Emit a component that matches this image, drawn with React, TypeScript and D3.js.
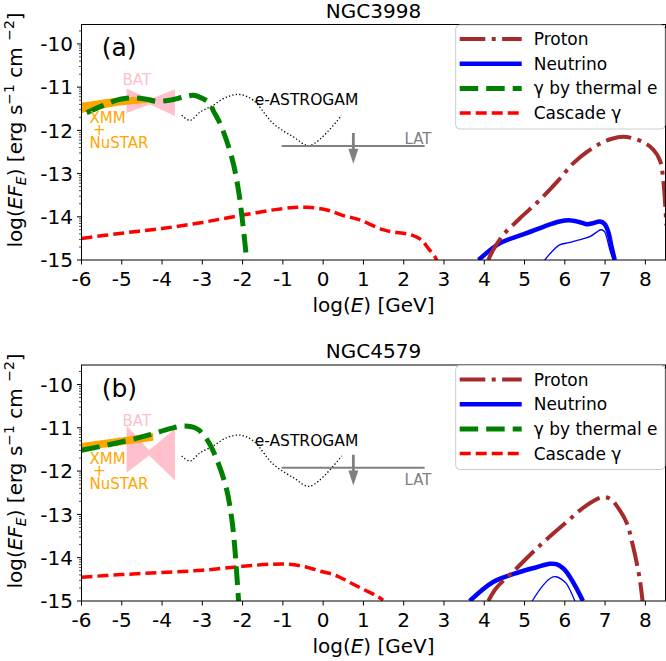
import React from "react";
import * as d3 from "d3";

const FONT = "'DejaVu Sans', sans-serif";
type P = [number, number];

// ---------- axes ----------
const X_TICKS = [-6, -5, -4, -3, -2, -1, 0, 1, 2, 3, 4, 5, 6, 7, 8];
const X_TICK_LABELS = ["-6", "-5", "-4", "-3", "-2", "-1", "0", "1", "2", "3", "4", "5", "6", "7", "8"];
const Y_TICKS = [-10, -11, -12, -13, -14, -15];
const Y_TICK_LABELS = ["-10", "-11", "-12", "-13", "-14", "-15"];
const LEGEND_LABELS = ["Proton", "Neutrino", "\u03b3 by thermal e", "Cascade \u03b3"];
const TITLES = ["NGC3998", "NGC4579"];
const PANEL_TAGS = ["(a)", "(b)"];

// ---------- instrument sensitivities (shared) ----------
const ASTROGAM: P[] = [
  [-3.51, -11.65], [-3.31, -11.77], [-3.06, -11.58], [-2.73, -11.42], [-2.4, -11.23],
  [-2.07, -11.17], [-1.74, -11.3], [-1.24, -11.84], [-0.74, -12.15], [-0.33, -12.35], [0.46, -11.65],
];
const LAT_RANGE = [-1.03, 2.52];
const LAT_ARROW_X = 0.75;

// ---------- (a) NGC3998 ----------
const A_XMM_X = [-6, -5.5, -5, -4.5, -4.2];
const A_XMM_HI = [-11.36, -11.29, -11.24, -11.23, -11.25];
const A_XMM_LO = [-11.6, -11.5, -11.42, -11.37, -11.35];
const A_BAT_X = [-4.88, -4.3, -3.68];
const A_BAT_HI = [-11.03, -11.28, -11.05];
const A_BAT_LO = [-11.6, -11.4, -11.67];
const A_LAT = -12.36;
const A_THERMAL: P[] = [
  [-5.87, -11.59], [-5.46, -11.42], [-5.04, -11.28], [-4.71, -11.25], [-4.38, -11.28],
  [-4.13, -11.33], [-3.8, -11.3], [-3.47, -11.23], [-3.23, -11.19], [-2.98, -11.27],
  [-2.81, -11.38], [-2.73, -11.54], [-2.56, -11.84], [-2.4, -12.23], [-2.23, -12.77],
  [-2.1, -13.4], [-1.99, -14.2], [-1.9, -15.0],
];
const A_CASCADE: P[] = [
  [-6, -14.5], [-5, -14.38], [-4, -14.27], [-3, -14.13], [-2, -13.96], [-1, -13.81],
  [-0.4, -13.78], [0.12, -13.85], [0.46, -13.96], [0.87, -14.06], [1.53, -14.31],
  [2.19, -14.42], [2.44, -14.54], [2.61, -14.73], [2.77, -14.92], [2.82, -15.0],
];
const A_PROTON: P[] = [
  [4.1, -15], [4.22, -14.77], [4.47, -14.42], [4.88, -14.04], [5.38, -13.61], [5.8, -13.2],
  [6.2, -12.77], [6.55, -12.5], [6.87, -12.31], [7.15, -12.2], [7.45, -12.15], [7.75, -12.2],
  [8.02, -12.31], [8.2, -12.45], [8.36, -12.69], [8.45, -13.2], [8.52, -14.2],
];
const A_NU: P[] = [
  [3.86, -15], [4.39, -14.61], [5.05, -14.38], [5.5, -14.22], [5.87, -14.11], [6.1, -14.08],
  [6.35, -14.12], [6.54, -14.17], [6.7, -14.15], [6.87, -14.11], [6.98, -14.16],
  [7.08, -14.35], [7.16, -14.69], [7.24, -15],
];
const A_NU_THIN: P[] = [
  [5.5, -15], [5.87, -14.65], [6.1, -14.6], [6.29, -14.55], [6.62, -14.46], [6.8, -14.35],
  [6.9, -14.3], [6.99, -14.35], [7.06, -14.55], [7.12, -14.77], [7.2, -15],
];

// ---------- (b) NGC4579 ----------
const B_XMM_X = [-6, -4.22];
const B_XMM_HI = [-11.35, -11.12];
const B_XMM_LO = [-11.53, -11.3];
const B_BAT_X = [-4.88, -4.32, -3.68];
const B_BAT_HI = [-10.95, -11.52, -11.02];
const B_BAT_LO = [-12.04, -11.64, -12.21];
const B_LAT = -11.92;
const B_THERMAL: P[] = [
  [-6, -11.52], [-4.88, -11.3], [-4.3, -11.16], [-3.8, -11.02], [-3.47, -10.96],
  [-3.14, -11.02], [-2.9, -11.25], [-2.65, -11.71], [-2.4, -12.41], [-2.27, -13.1],
  [-2.2, -13.7], [-2.1, -15],
];
const B_CASCADE: P[] = [
  [-6, -14.45], [-5, -14.39], [-4, -14.34], [-3, -14.29], [-2, -14.2], [-1.28, -14.15],
  [-0.87, -14.15], [-0.45, -14.21], [-0.04, -14.32], [0.29, -14.4], [0.62, -14.55],
  [0.95, -14.71], [1.28, -14.86], [1.49, -14.98],
];
const B_PROTON: P[] = [
  [4.1, -15], [4.3, -14.7], [4.71, -14.33], [5.38, -13.72], [6.04, -13.18], [6.54, -12.79],
  [6.95, -12.6], [7.15, -12.65], [7.28, -12.79], [7.53, -13.18], [7.69, -13.72],
  [7.86, -14.49], [7.93, -15],
];
const B_NU: P[] = [
  [3.64, -15], [4.22, -14.56], [4.88, -14.33], [5.3, -14.22], [5.63, -14.14], [5.79, -14.15],
  [5.95, -14.24], [6.04, -14.33], [6.25, -14.64], [6.45, -15],
];
const B_NU_THIN: P[] = [
  [5.19, -15], [5.46, -14.64], [5.65, -14.47], [5.79, -14.44], [5.92, -14.5], [6.04, -14.6],
  [6.25, -15],
];

// ---------- styles ----------
const STYLES = [
  { color: "#a52a2a", width: 4, dash: "25.6 6.4 4 6.4" },
  { color: "#0000ff", width: 4.5, dash: "" },
  { color: "#008000", width: 5, dash: "18.5 8" },
  { color: "#ff0000", width: 3.5, dash: "11 5" },
];

const X_LEFT = 81.5;
const X_RIGHT = 665.5;
const xScale = d3.scaleLinear().domain([-6, 8.5]).range([X_LEFT, X_RIGHT]);

interface PanelProps {
  idx: number;
  top: number;
  bottom: number;
  labelCenter: number;
  xmm: { x: number[]; hi: number[]; lo: number[] };
  bat: { x: number[]; hi: number[]; lo: number[] };
  lat: number;
  thermal: P[];
  cascade: P[];
  proton: P[];
  nu: P[];
  nuThin: P[];
}

function Panel(props: PanelProps) {
  const { idx, top, bottom, labelCenter, xmm, bat, lat, thermal, cascade, proton, nu, nuThin } = props;
  const y = d3.scaleLinear().domain([-15, -9.55]).range([bottom, top]);
  const x = xScale;
  const line = d3.line<P>().x((d) => x(d[0])).y((d) => y(d[1])).curve(d3.curveCatmullRom.alpha(0.5));
  const band = (xs: number[], hi: number[], lo: number[]) =>
    d3
      .area<number>()
      .x((_, i) => x(xs[i]))
      .y0((_, i) => y(lo[i]))
      .y1((_, i) => y(hi[i]))
      .curve(d3.curveMonotoneX)(xs) || "";
  const batPath = d3
    .area<number>()
    .x((_, i) => x(bat.x[i]))
    .y0((_, i) => y(bat.lo[i]))
    .y1((_, i) => y(bat.hi[i]))(bat.x) || "";
  const clipId = `clip${idx}`;
  const minor: number[] = [];
  for (let k = -15; k <= -10; k++) {
    for (let m = 2; m <= 9; m++) {
      const v = k + Math.log10(m);
      if (v < -9.55) minor.push(v);
    }
  }
  const arrowTop = y(lat + 0.3);
  const arrowEnd = y(lat - 0.41);
  const ax = x(LAT_ARROW_X);
  const legL = 455.7;
  const legW = X_RIGHT - legL - 0.5;
  const legH = 104;
  return (
    <g>
      <defs>
        <clipPath id={clipId}>
          <rect x={X_LEFT} y={top} width={X_RIGHT - X_LEFT} height={bottom - top} />
        </clipPath>
      </defs>
      <text x={(X_LEFT + X_RIGHT) / 2} y={top - 7} textAnchor="middle" fontSize={20} fontFamily={FONT}>
        {TITLES[idx]}
      </text>
      <g clipPath={`url(#${clipId})`}>
        <path d={batPath} fill="#ffc0cb" />
        <path d={band(xmm.x, xmm.hi, xmm.lo)} fill="#ffa500" />
        <path d={line(ASTROGAM) || ""} fill="none" stroke="#000" strokeWidth={1.3} strokeDasharray="1.3 2.2" />
        <line x1={x(LAT_RANGE[0])} x2={x(LAT_RANGE[1])} y1={y(lat)} y2={y(lat)} stroke="#808080" strokeWidth={2} />
        <line x1={ax} x2={ax} y1={arrowTop} y2={arrowEnd - 14} stroke="#808080" strokeWidth={2.8} />
        <path d={`M${ax - 5},${arrowEnd - 15}L${ax + 5},${arrowEnd - 15}L${ax},${arrowEnd}Z`} fill="#808080" />
        <path d={line(cascade) || ""} fill="none" stroke={STYLES[3].color} strokeWidth={STYLES[3].width} strokeDasharray={STYLES[3].dash} />
        <path d={line(thermal) || ""} fill="none" stroke={STYLES[2].color} strokeWidth={STYLES[2].width} strokeDasharray={STYLES[2].dash} />
        <path d={line(nuThin) || ""} fill="none" stroke={STYLES[1].color} strokeWidth={1.3} />
        <path d={line(nu) || ""} fill="none" stroke={STYLES[1].color} strokeWidth={STYLES[1].width} />
        <path d={line(proton) || ""} fill="none" stroke={STYLES[0].color} strokeWidth={STYLES[0].width} strokeDasharray={STYLES[0].dash} />
      </g>
      {/* annotations */}
      <text x={x(-4.98)} y={y(-10.96)} fontSize={15} fill="#ffc0cb" fontFamily={FONT}>BAT</text>
      <text x={x(-5.8)} y={y(-11.83)} fontSize={15} fill="#ffa500" fontFamily={FONT}>XMM</text>
      <text x={x(-5.56)} y={y(-12.11)} fontSize={15} fill="#ffa500" fontFamily={FONT} textAnchor="middle">+</text>
      <text x={x(-5.8)} y={y(-12.41)} fontSize={15} fill="#ffa500" fontFamily={FONT}>NuSTAR</text>
      <text x={x(-1.7)} y={y(-11.42)} fontSize={15.5} fill="#000" fontFamily={FONT}>e-ASTROGAM</text>
      <text x={x(2.02)} y={idx === 0 ? y(lat) - 2 : y(lat) + 17} fontSize={15} fill="#808080" fontFamily={FONT}>LAT</text>
      <text x={x(-5.5)} y={y(-10.28)} fontSize={25} fontFamily={FONT}>{PANEL_TAGS[idx]}</text>
      {/* frame */}
      <rect x={X_LEFT} y={top} width={X_RIGHT - X_LEFT} height={bottom - top} fill="none" stroke="#000" strokeWidth={1} />
      {/* x ticks */}
      {X_TICKS.map((t, i) => (
        <g key={t}>
          <line x1={x(t)} x2={x(t)} y1={bottom} y2={bottom + 4.5} stroke="#000" />
          <text x={x(t)} y={bottom + 26} textAnchor="middle" fontSize={20} fontFamily={FONT}>
            {X_TICK_LABELS[i]}
          </text>
        </g>
      ))}
      {/* y ticks */}
      {Y_TICKS.map((t, i) => (
        <g key={t}>
          <line x1={X_LEFT} x2={X_LEFT - 4.5} y1={y(t)} y2={y(t)} stroke="#000" />
          <text x={X_LEFT - 8.5} y={y(t) + 7.3} textAnchor="end" fontSize={20} fontFamily={FONT}>
            {Y_TICK_LABELS[i]}
          </text>
        </g>
      ))}
      {minor.map((v, i) => (
        <line key={i} x1={X_LEFT} x2={X_LEFT - 2.5} y1={y(v)} y2={y(v)} stroke="#000" strokeWidth={0.7} />
      ))}
      {/* axis labels */}
      <text x={(X_LEFT + X_RIGHT) / 2} y={bottom + 52} textAnchor="middle" fontSize={20} fontFamily={FONT}>
        log(<tspan fontStyle="italic">E</tspan>) [GeV]
      </text>
      <text transform={`translate(22,${labelCenter}) rotate(-90)`} textAnchor="middle" fontSize={20} fontFamily={FONT}>
        log(<tspan fontStyle="italic">EF</tspan>
        <tspan fontStyle="italic" fontSize={14} dy={4}>E</tspan>
        <tspan dy={-4}>) [erg s</tspan>
        <tspan fontSize={14} dy={-8}>{"\u22121"}</tspan>
        <tspan dy={8}> cm </tspan>
        <tspan fontSize={14} dy={-8}>{"\u22122"}</tspan>
        <tspan dy={8}>]</tspan>
      </text>
      {/* legend */}
      <g>
        <rect x={legL} y={top + 0.5} width={legW} height={legH} rx={4} fill="#fff" fillOpacity={0.8} stroke="#cccccc" strokeWidth={1} />
        {LEGEND_LABELS.map((lab, i) => {
          const ly = top + 14.5 + i * 24.7;
          const s = STYLES[i];
          return (
            <g key={lab}>
              <line x1={legL + 4} x2={legL + 66} y1={ly} y2={ly} stroke={s.color} strokeWidth={s.width} strokeDasharray={s.dash} />
              <text x={legL + 78} y={ly + 6} fontSize={17} fontFamily={FONT}>{lab}</text>
            </g>
          );
        })}
      </g>
    </g>
  );
}

export default function App() {
  return (
    <svg width={666} height={661} style={{ position: "absolute", left: 0, top: 0, background: "#fff" }}>
      <rect width={666} height={661} fill="#fff" />
      <Panel
        idx={0}
        top={24.5}
        bottom={260}
        labelCenter={130}
        xmm={{ x: A_XMM_X, hi: A_XMM_HI, lo: A_XMM_LO }}
        bat={{ x: A_BAT_X, hi: A_BAT_HI, lo: A_BAT_LO }}
        lat={A_LAT}
        thermal={A_THERMAL}
        cascade={A_CASCADE}
        proton={A_PROTON}
        nu={A_NU}
        nuThin={A_NU_THIN}
      />
      <Panel
        idx={1}
        top={365}
        bottom={601}
        labelCenter={471}
        xmm={{ x: B_XMM_X, hi: B_XMM_HI, lo: B_XMM_LO }}
        bat={{ x: B_BAT_X, hi: B_BAT_HI, lo: B_BAT_LO }}
        lat={B_LAT}
        thermal={B_THERMAL}
        cascade={B_CASCADE}
        proton={B_PROTON}
        nu={B_NU}
        nuThin={B_NU_THIN}
      />
    </svg>
  );
}
